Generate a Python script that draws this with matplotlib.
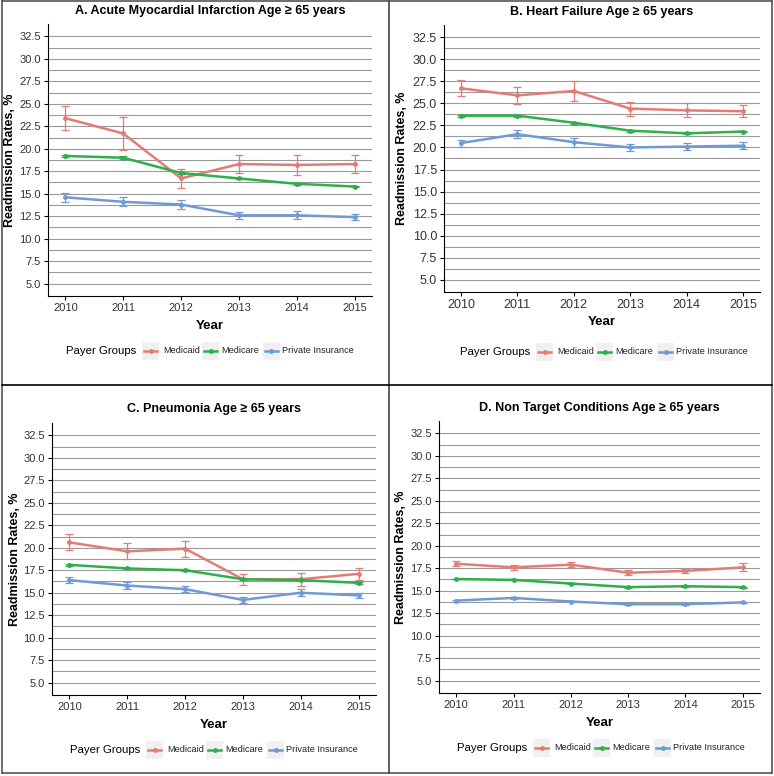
import numpy as np
import matplotlib
matplotlib.use("Agg")
from matplotlib import pyplot as plt
from matplotlib.patches import Rectangle
from matplotlib.lines import Line2D

plt.rcParams['font.family'] = ['Liberation Sans', 'DejaVu Sans']

years = [2010, 2011, 2012, 2013, 2014, 2015]
groups = ["Medicaid", "Medicare", "Private Insurance"]
colors = ["#E57C74", "#2DB04B", "#6F9AD3"]

titles = ["A. Acute Myocardial Infarction Age \u2265 65 years",
          "B. Heart Failure Age \u2265 65 years",
          "C. Pneumonia Age \u2265 65 years",
          "D. Non Target Conditions Age \u2265 65 years"]

# rates (%) per panel, rows = Medicaid, Medicare, Private Insurance
ami_rates = [[23.4, 21.7, 16.7, 18.3, 18.2, 18.3],
             [19.2, 19.0, 17.3, 16.7, 16.1, 15.8],
             [14.6, 14.1, 13.8, 12.6, 12.6, 12.4]]
ami_err = [[1.3, 1.8, 1.1, 1.0, 1.1, 1.0],
           [0.15, 0.15, 0.15, 0.1, 0.1, 0.1],
           [0.5, 0.5, 0.45, 0.4, 0.45, 0.35]]

hf_rates = [[26.7, 25.9, 26.4, 24.4, 24.2, 24.1],
            [23.6, 23.6, 22.8, 21.9, 21.6, 21.8],
            [20.5, 21.5, 20.6, 20.0, 20.1, 20.2]]
hf_err = [[0.9, 1.0, 1.1, 0.8, 0.8, 0.7],
          [0.1, 0.1, 0.1, 0.1, 0.1, 0.1],
          [0.4, 0.45, 0.5, 0.4, 0.4, 0.4]]

pn_rates = [[20.6, 19.6, 19.9, 16.5, 16.5, 17.1],
            [18.1, 17.7, 17.5, 16.5, 16.4, 16.1],
            [16.4, 15.8, 15.4, 14.2, 15.0, 14.7]]
pn_err = [[0.9, 0.9, 0.9, 0.6, 0.7, 0.7],
          [0.1, 0.1, 0.1, 0.1, 0.1, 0.1],
          [0.35, 0.35, 0.35, 0.35, 0.4, 0.3]]

nt_rates = [[18.0, 17.6, 17.9, 17.0, 17.2, 17.6],
            [16.3, 16.2, 15.8, 15.4, 15.5, 15.4],
            [13.9, 14.2, 13.8, 13.5, 13.5, 13.7]]
nt_err = [[0.25, 0.25, 0.25, 0.25, 0.2, 0.45],
          [0.05, 0.05, 0.05, 0.05, 0.05, 0.05],
          [0.1, 0.1, 0.1, 0.1, 0.1, 0.1]]

yticks = [5.0, 7.5, 10.0, 12.5, 15.0, 17.5, 20.0, 22.5, 25.0, 27.5, 30.0, 32.5]

W, H = 774, 776
fig = plt.figure(figsize=(W / 100, H / 100), dpi=100)


def px(x, y):
    return x / W, 1 - y / H


def panel(rect, title, rates, errs, title_y, leg_x, leg_y, ylab_off, tick_fs=8):
    l, t, r, b = rect
    ax = fig.add_axes([l / W, 1 - b / H, (r - l) / W, (b - t) / H])
    for i, g in enumerate(groups):
        ax.errorbar(years, rates[i], yerr=errs[i], color=colors[i], lw=1.8,
                    marker='o', ms=2.5, capsize=3, elinewidth=0.9, capthick=0.9,
                    zorder=3)
    ax.set_xlim(2009.7, 2015.3)
    ax.set_ylim(3.63, 33.87)
    ax.set_yticks(yticks)
    ax.set_yticklabels([f"{v:.1f}" for v in yticks])
    ax.set_yticks(np.arange(6.25, 33, 2.5), minor=True)
    ax.tick_params(axis='y', which='minor', length=0)
    ax.grid(axis='y', which='both', color='#9a9a9a', lw=0.8)
    ax.set_axisbelow(True)
    ax.spines['top'].set_visible(False)
    ax.spines['right'].set_visible(False)
    ax.tick_params(labelsize=tick_fs, labelcolor='#333333', length=3, pad=2)
    ax.set_xticks(years)
    ax.set_xlabel("Year", fontsize=9.5, fontweight='bold')
    ax.set_ylabel("Readmission Rates, %", fontsize=9, fontweight='bold')
    # label's right edge sits ylab_off px left of the axis
    ax.yaxis.set_label_coords(-ylab_off / (r - l), 0.5)
    ax.xaxis.set_label_coords(0.5, -24 / (b - t))
    cx = (l + r) / 2
    fig.text(*px(cx, title_y), title, ha='center', va='center',
             fontsize=9, fontweight='bold')

    # legend drawn like ggplot keys
    fig.text(*px(leg_x, leg_y), "Payer Groups", ha='left', va='center', fontsize=8.2)
    offs = [(76, 97), (136, 155), (197, 216)]
    for i, g in enumerate(groups):
        kx, tx = offs[i]
        x0, y0 = px(leg_x + kx, leg_y + 9)
        fig.add_artist(Rectangle((x0, y0), 17 / W, 18 / H, transform=fig.transFigure,
                                 facecolor='#F0F0F0', edgecolor='none'))
        xa, ya = px(leg_x + kx + 2, leg_y)
        xb, _ = px(leg_x + kx + 15, leg_y)
        fig.add_artist(Line2D([xa, xb], [ya, ya], transform=fig.transFigure,
                              color=colors[i], lw=1.8))
        fig.add_artist(Line2D([(xa + xb) / 2], [ya], transform=fig.transFigure,
                              color=colors[i], marker='o', ms=2.5))
        fig.text(*px(leg_x + tx, leg_y), g, ha='left', va='center', fontsize=6.6,
                 color='#222222')
    return ax


panel((48, 24, 372, 296), titles[0], ami_rates, ami_err, 11, 66, 351, 32)
panel((444, 25, 760, 292), titles[1], hf_rates, hf_err, 12, 460, 352, 36, tick_fs=9)
panel((52, 423, 376, 695), titles[2], pn_rates, pn_err, 409, 70, 750, 31)
panel((439, 421, 760, 693), titles[3], nt_rates, nt_err, 408, 457, 748, 32)

# frame and dividers between panels
for xs, ys, c in [([2, 2], [1, 773], '#555555'), ([772, 772], [1, 773], '#555555'),
                  ([2, 772], [1, 1], '#555555'), ([2, 772], [773, 773], '#555555'),
                  ([389, 389], [1, 773], '#444444'), ([2, 772], [385, 385], 'black')]:
    xx = [x / W for x in xs]
    yy = [1 - y / H for y in ys]
    fig.add_artist(Line2D(xx, yy, transform=fig.transFigure, color=c, lw=1.2))

fig.savefig("out.png", dpi=100)
